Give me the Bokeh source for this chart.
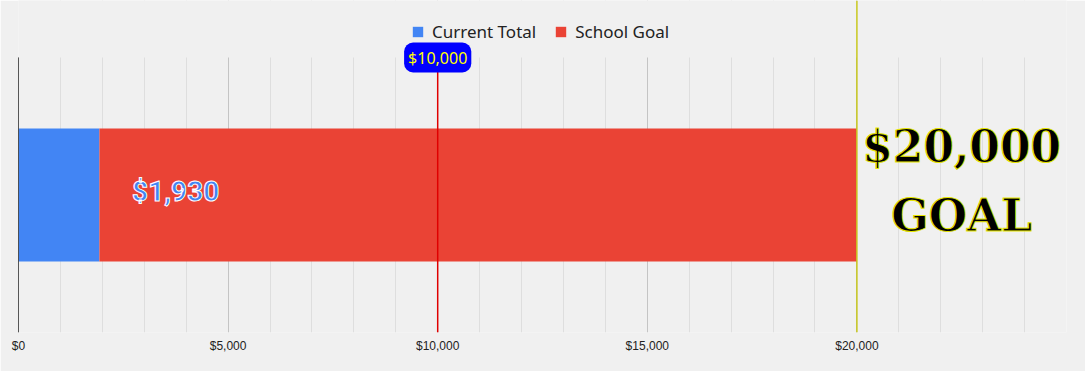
from bokeh.plotting import figure
from bokeh.models import (Range1d, FixedTicker, NumeralTickFormatter, Span,
                          Label, Legend, LegendItem, BoxAnnotation, ColumnDataSource)
from bokeh.core.properties import value
from bokeh.embed import file_html
from bokeh.resources import INLINE

# ---- data ----
category = ["Total"]
current_total = [1930]
school_goal = [20000]
milestone = 10000
axis_ticks = [0, 5000, 10000, 15000, 20000]
grid_major = [0, 5000, 10000, 15000, 20000, 25000]
grid_minor = [v for v in range(0, 25001, 1000) if v % 5000 != 0]
x_max = 25000

BLUE = "#4285F4"
RED = "#EA4335"
BG = "#F0F0F0"

# frame spans canvas top (0) to 332px; plot band (y 0..1) is 275px tall
Y_TOP = 332 / 275.0

p = figure(width=1085, height=371, output_backend="svg", toolbar_location=None,
           x_range=Range1d(0, x_max), y_range=Range1d(0, Y_TOP),
           min_border_left=18, min_border_right=19, min_border_top=0, min_border_bottom=39,
           background_fill_color=BG, border_fill_color=BG, outline_line_color=None)

ypos = [i + 0.5 for i in range(len(category))]
src = ColumnDataSource(dict(cat=category, y=ypos, cur=current_total, goal=school_goal,
                            zero=[0] * len(category)))
r_cur = p.hbar(y="y", left="zero", right="cur", height=0.484, source=src,
               fill_color=BLUE, line_color=None)
r_goal = p.hbar(y="y", left="cur", right="goal", height=0.484, source=src,
                fill_color=RED, line_color=None)

# axes
p.xaxis.ticker = FixedTicker(ticks=axis_ticks)
p.xaxis.formatter = NumeralTickFormatter(format="$0,0")
p.xaxis.axis_line_color = None
p.xaxis.major_tick_line_color = None
p.xaxis.minor_tick_line_color = None
p.xaxis.major_label_text_font = "Liberation Sans"
p.xaxis.major_label_text_font_size = "12px"
p.xaxis.major_label_text_color = "#222222"
p.xaxis.major_label_standoff = 6
p.xaxis.major_tick_in = 0
p.xaxis.major_tick_out = 0
p.yaxis.visible = False

# grid
p.ygrid.grid_line_color = None
p.xgrid.ticker = FixedTicker(ticks=grid_major, minor_ticks=grid_minor)
p.xgrid.grid_line_color = "#c4c4c4"
p.xgrid.minor_grid_line_color = "#dedede"

# cover the area above the chart band (legend area)
p.add_layout(BoxAnnotation(bottom=1, fill_color=BG, fill_alpha=1, line_color=None))

# left baseline axis line
p.add_layout(BoxAnnotation(left=0, right=0, bottom=0, top=1, fill_alpha=0,
                           line_color="#222222", line_alpha=1, line_width=1))

# goal line
p.add_layout(Span(location=school_goal[0], dimension="height", line_color="#c8c81e", line_width=1.5))

# milestone line + label
p.add_layout(BoxAnnotation(left=milestone, right=milestone, bottom=0, top=1, fill_alpha=0,
                           line_color="#e00000", line_alpha=1, line_width=1.5))
p.add_layout(Label(x=milestone, y=1, text=f"${milestone:,}",
                   text_align="center", text_baseline="middle",
                   text_font="Noto Sans", text_font_size="16px", text_color="#ffff00",
                   background_fill_color="#0000ff", border_radius=9,
                   padding=4))

# current total label
p.text(x=[3750], y=ypos, text=[f"${current_total[0]:,}"],
       text_align="center", text_baseline="middle", y_offset=-4,
       text_font=value("Roboto"), text_font_style="bold", text_font_size="28px",
       text_color=BLUE, text_outline_color="white")

# goal text
p.text(x=[22500], y=ypos, text=[f"${school_goal[0]:,}\nGOAL"],
       text_align="center", text_baseline="middle", y_offset=-14,
       text_font=value("DejaVu Serif"), text_font_style="bold", text_font_size="44px",
       text_line_height=1.37,
       text_color="black", text_outline_color="#e6e600")

legend = Legend(items=[LegendItem(label="Current Total", renderers=[r_cur]),
                       LegendItem(label="School Goal", renderers=[r_goal])],
                orientation="horizontal", location=(393, 289),
                background_fill_alpha=0, border_line_color=None,
                label_text_font="Noto Sans", label_text_font_size="17px",
                label_text_color="#222222",
                glyph_width=13, glyph_height=13, label_standoff=8, spacing=18,
                padding=0, margin=0)
p.add_layout(legend)

open("out.html", "w").write(file_html(p, INLINE))
